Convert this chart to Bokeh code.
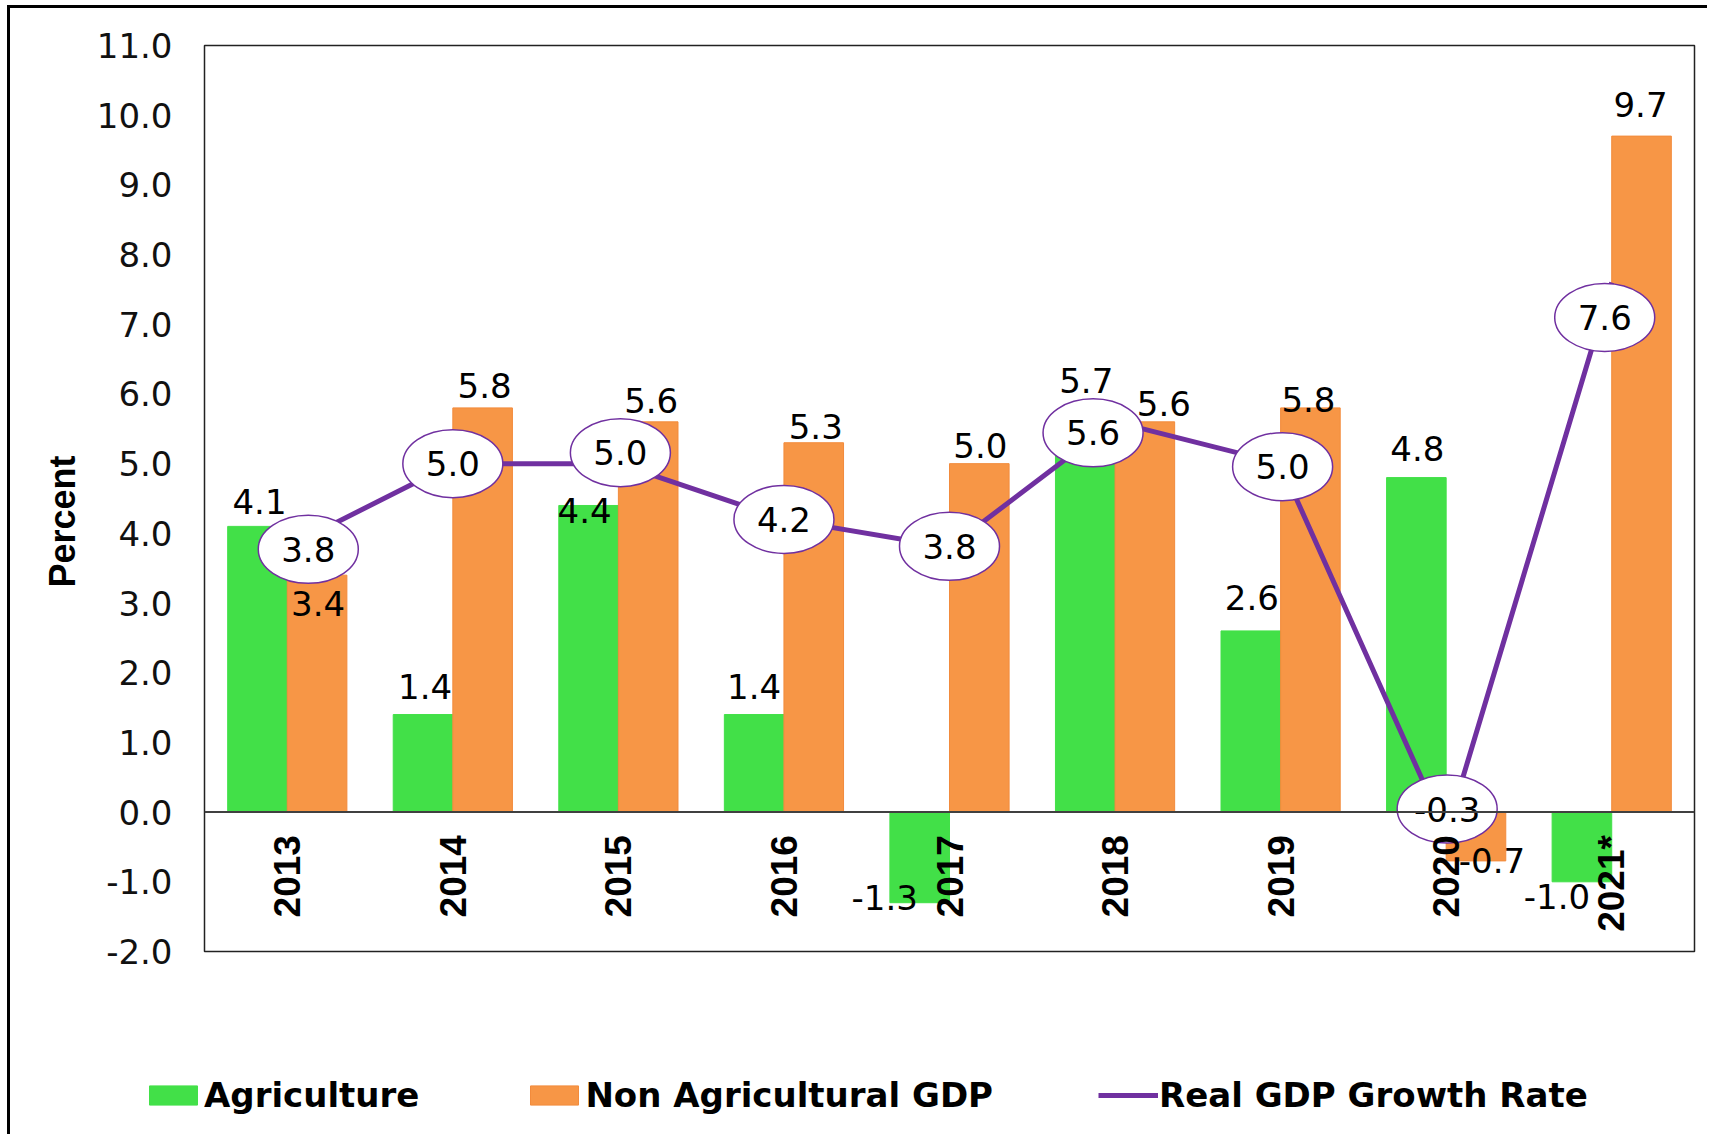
import math
from bokeh.plotting import figure
from bokeh.models import (Range1d, FixedTicker, PrintfTickFormatter, Span, Legend, LegendItem,
                          ColumnDataSource, Title)
from bokeh.core.properties import value
from bokeh.embed import file_html
from bokeh.resources import INLINE

# ---------------- data ----------------
years = ["2013", "2014", "2015", "2016", "2017", "2018", "2019", "2020", "2021*"]
agriculture = [4.1, 1.4, 4.4, 1.4, -1.3, 5.7, 2.6, 4.8, -1.0]
non_agri = [3.4, 5.8, 5.6, 5.3, 5.0, 5.6, 5.8, -0.7, 9.7]
real_gdp = [3.8, 5.0, 5.0, 4.2, 3.8, 5.6, 5.0, -0.3, 7.6]
y_ticks = [-2, -1, 0, 1, 2, 3, 4, 5, 6, 7, 8, 9, 10, 11]
series_names = ["Agriculture", "Non Agricultural GDP", "Real GDP Growth Rate"]

# ---------------- label placement (screen px, +dy = down) ----------------
agri_dx = [2, 2, -4, 0, -35, 1, 1, 1, -25]
agri_dy = [-25, -28, 5, -28, -5, -34, -33, -29, 15]
non_dx = [1, 2, 3, 2, 1, 19, -2, 16, -1]
non_dy = [28, -22, -21, -16, -18, -18, -8, 0, -32]
gdp_dx = [21, 0, 2, 0, 0, -22, 2, 1, -7]
gdp_dy = [2, 0, -11, 0, -1, 11, 3, -24, 35]

GREEN, ORANGE, ORANGE_EDGE, PURPLE = "#42E048", "#F79646", "#F28B3C", "#7030A0"
NUM_FONT = "DejaVu Sans"
BOLD_FONT = "Liberation Sans"
W = 1700
H1, H2 = 963, 166
ML, MR, MT, MB = 194, 16, 37, 20
FW, FH = W - ML - MR, H1 - MT - MB
n = len(years)
PX = FW / n
PY = FH / 13.0

xc = [i + 0.5 for i in range(n)]
bw = 0.36
xa = [x - bw / 2 for x in xc]
xn = [x + bw / 2 for x in xc]

p = figure(width=W, height=H1, x_range=Range1d(0, n), y_range=Range1d(y_ticks[0], y_ticks[-1]),
           output_backend="svg", toolbar_location=None,
           min_border_left=ML, min_border_right=MR, min_border_top=MT, min_border_bottom=MB,
           background_fill_color="white", border_fill_color="white",
           styles={"margin-left": "7px", "margin-top": "5px",
                   "border-left": "3px solid #000000", "border-top": "3px solid #000000"})

p.xgrid.visible = False
p.ygrid.visible = False
p.xaxis.visible = False
p.outline_line_color = "#222222"
p.outline_line_width = 1.5

ya = p.yaxis[0]
ya.ticker = FixedTicker(ticks=y_ticks)
ya.formatter = PrintfTickFormatter(format="%.1f")
ya.axis_line_color = None
ya.major_tick_line_color = None
ya.minor_tick_line_color = None
ya.major_label_standoff = 26
ya.major_label_text_font = NUM_FONT
ya.major_label_text_font_size = "34px"
ya.major_label_text_color = "#111111"

ytitle = Title(text="Percent", align="left", offset=364, standoff=21,
               text_font=BOLD_FONT, text_font_style="bold", text_font_size="36px",
               text_color="#000000")
p.add_layout(ytitle, "left")

src = ColumnDataSource(dict(xa=xa, xn=xn, agri=agriculture, nonag=non_agri))
p.vbar(x="xa", top="agri", bottom=0, width=bw, source=src, fill_color=GREEN, line_color=GREEN)
p.vbar(x="xn", top="nonag", bottom=0, width=bw, source=src, fill_color=ORANGE, line_color=ORANGE_EDGE)

p.add_layout(Span(location=0, dimension="width", line_color="#404040", line_width=2))

p.line(xc, real_gdp, line_color=PURPLE, line_width=5)


def lbl_y(v, dy):
    return v - dy / PY


p.text(x=[x + d / PX for x, d in zip(xa, agri_dx)],
       y=[lbl_y(v, d) for v, d in zip(agriculture, agri_dy)],
       text=[f"{v:.1f}" for v in agriculture],
       text_align="center", text_baseline="middle",
       text_font=value(NUM_FONT), text_font_size="34px", text_color="#000000")
p.text(x=[x + d / PX for x, d in zip(xn, non_dx)],
       y=[lbl_y(v, d) for v, d in zip(non_agri, non_dy)],
       text=[f"{v:.1f}" for v in non_agri],
       text_align="center", text_baseline="middle",
       text_font=value(NUM_FONT), text_font_size="34px", text_color="#000000")

ex = [x + d / PX for x, d in zip(xc, gdp_dx)]
ey = [lbl_y(v, d) for v, d in zip(real_gdp, gdp_dy)]
p.ellipse(x=ex, y=ey, width=100, height=68, width_units="screen", height_units="screen",
          fill_color="white", line_color=PURPLE, line_width=1.5)
p.text(x=ex, y=ey, text=[f"{v:.1f}" for v in real_gdp],
       text_align="center", text_baseline="middle",
       text_font=value(NUM_FONT), text_font_size="34px", text_color="#000000")

p.text(x=xc, y=[0 - 23 / PY] * n, text=years, angle=math.pi / 2,
       text_align="right", text_baseline="middle",
       text_font=value(BOLD_FONT), text_font_style="bold", text_font_size="37px",
       text_color="#000000")

# ---------------- legend strip (own root, same styles) ----------------
p2 = figure(width=W, height=H2, x_range=Range1d(0, 1), y_range=Range1d(0, 1),
            output_backend="svg", toolbar_location=None, x_axis_type=None, y_axis_type=None,
            min_border_left=0, min_border_right=0, min_border_top=0, min_border_bottom=0,
            background_fill_color="white", border_fill_color="white",
            styles={"margin-left": "7px", "border-left": "3px solid #000000"})
p2.xgrid.visible = False
p2.ygrid.visible = False
p2.outline_line_color = None
# renderers kept outside the visible range: they only supply the legend swatches
offscreen = ColumnDataSource(dict(x=[5, 6], y=[5, 5]))
g1 = p2.vbar(x="x", top="y", width=0.1, source=offscreen, fill_color=GREEN, line_color=GREEN)
g2 = p2.vbar(x="x", top="y", width=0.1, source=offscreen, fill_color=ORANGE, line_color=ORANGE_EDGE)
g3 = p2.line(x="x", y="y", source=offscreen, line_color=PURPLE, line_width=5)

legend = Legend(items=[LegendItem(label=series_names[0], renderers=[g1]),
                       LegendItem(label=series_names[1], renderers=[g2]),
                       LegendItem(label=series_names[2], renderers=[g3])],
                orientation="horizontal", location=(133, 19),
                label_text_font=NUM_FONT, label_text_font_style="bold",
                label_text_font_size="34px", label_text_color="#000000",
                glyph_width=60, glyph_height=24, label_standoff=1, spacing=105,
                padding=0, margin=0, border_line_color=None, background_fill_alpha=0)
p2.add_layout(legend)

open("out.html", "w").write(file_html([p, p2], INLINE))
